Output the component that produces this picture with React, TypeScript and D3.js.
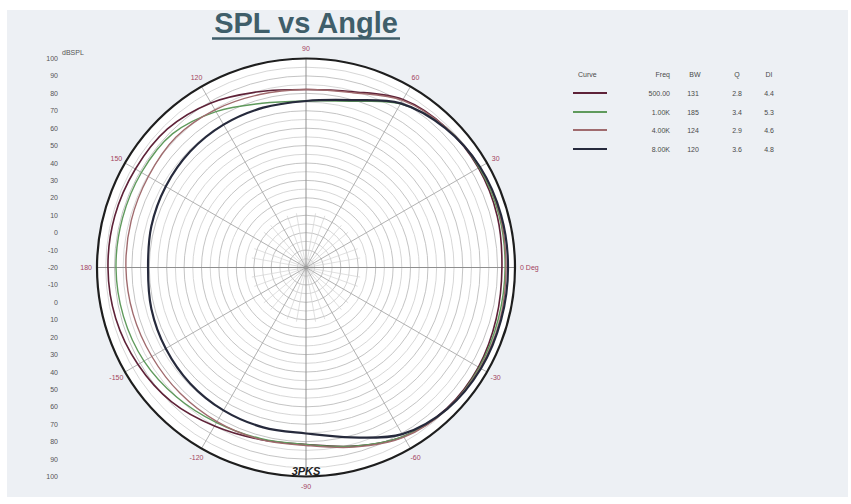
import React from "react";
import * as d3 from "d3";

const angles = [0, 15, 30, 45, 60, 75, 90, 105, 120, 135, 150, 165, 180, 195, 210, 225, 240, 255, 270, 285, 300, 315, 330, 345];
const spl500 = [92.5, 93.7, 94.3, 93.7, 91.4, 84.5, 82.2, 84.5, 89.1, 92.5, 93.1, 93.7, 93.7, 93.1, 91.4, 89.1, 85.1, 82.2, 81.6, 86.2, 92.0, 94.3, 94.3, 93.1];
const spl1k = [94.3, 94.8, 94.8, 93.7, 88.5, 78.8, 75.6, 77.6, 83.4, 88.5, 89.1, 89.1, 89.1, 88.5, 87.4, 85.1, 82.8, 81.6, 81.6, 86.2, 92.0, 94.8, 94.8, 94.3];
const spl4k = [94.8, 95.4, 95.4, 93.7, 90.8, 83.9, 82.2, 82.8, 84.5, 85.7, 84.5, 83.9, 83.4, 82.8, 82.2, 82.2, 82.2, 82.2, 82.2, 86.8, 92.5, 94.8, 95.4, 95.4];
const spl8k = [96.0, 96.0, 95.4, 93.1, 88.8, 79.5, 75.6, 75.0, 74.7, 74.1, 73.0, 71.9, 70.7, 71.9, 73.0, 74.1, 74.7, 75.0, 75.3, 81.0, 90.5, 94.8, 96.0, 96.0];

const freqLabels = ["500.00", "1.00K", "4.00K", "8.00K"];
const bwValues = ["131", "185", "124", "120"];
const qValues = ["2.8", "3.4", "2.9", "3.6"];
const diValues = ["4.4", "5.3", "4.6", "4.8"];
const curveColors = ["#5e2238", "#5f9a5c", "#a06b6e", "#262a3c"];
const curveWidths = [1.6, 1.4, 1.4, 2.2];

const angleTicks = [0, 30, 60, 90, 120, 150, 180, 210, 240, 270, 300, 330];
const angleTickLabels = ["0 Deg", "30", "60", "90", "120", "150", "180", "-150", "-120", "-90", "-60", "-30"];
const dbTop = [100, 90, 80, 70, 60, 50, 40, 30, 20, 10, 0, -10];
const dbCenter = -20;

export default function App() {
  const W = 851, H = 504;
  const cx = 306, cy = 267.5, R = 209;
  const r = d3.scaleLinear().domain([-20, 100]).range([0, R]);
  const series = [spl500, spl1k, spl4k, spl8k];
  const toA = (deg: number) => ((90 - deg) * Math.PI) / 180;
  const line = d3
    .lineRadial<number>()
    .angle((_, i) => toA(angles[i]))
    .radius((d) => r(d))
    .curve(d3.curveCatmullRomClosed.alpha(0.5));

  const rings = d3.range(-15, 100, 5);
  const minorSpokes = d3.range(0, 360, 10).filter((a) => a % 30 !== 0);
  const labelColor = "#a3435e";
  const axisTextColor = "#555555";

  const legendX = 573;
  const rowsY = [93, 112, 130, 149];

  return (
    <svg width={W} height={H} style={{ position: "absolute", left: 0, top: 0, display: "block" }} fontFamily="Liberation Sans, Arial, sans-serif">
      <rect x={0} y={0} width={W} height={H} fill="#ffffff" />
      <rect x={7} y={10} width={W - 10} height={487} fill="#edf0f4" />

      {/* title */}
      <text x={306} y={33} textAnchor="middle" fontSize={29} fontWeight="bold" fill="#3f5e6a">SPL vs Angle</text>
      <line x1={212} x2={400} y1={38.5} y2={38.5} stroke="#3f5e6a" strokeWidth={2.5} />

      {/* dB axis labels */}
      <text x={62} y={55} fontSize={7} fill={axisTextColor}>dBSPL</text>
      {dbTop.map((v) => (
        <text key={"t" + v} x={58} y={cy - r(v) + 2.5} fontSize={7} textAnchor="end" fill={axisTextColor}>{v}</text>
      ))}
      <text x={58} y={cy + 2.5} fontSize={7} textAnchor="end" fill={axisTextColor}>{dbCenter}</text>
      {dbTop.map((v) => (
        <text key={"b" + v} x={58} y={cy + r(v) + 2.5} fontSize={7} textAnchor="end" fill={axisTextColor}>{v}</text>
      ))}

      <g transform={`translate(${cx},${cy})`}>
        <circle r={R} fill="#ffffff" />
        {rings.map((v) => (
          <circle key={v} r={r(v)} fill="none" stroke={v % 10 === 0 ? "#b5b5b5" : "#cdcdcd"} strokeWidth={0.8} />
        ))}
        {minorSpokes.map((a) => (
          <line key={"m" + a} x1={0} y1={0} x2={Math.cos((a * Math.PI) / 180) * 55} y2={-Math.sin((a * Math.PI) / 180) * 55} stroke="#d2d2d2" strokeWidth={0.7} />
        ))}
        {angleTicks.map((a) => (
          <line key={"s" + a} x1={0} y1={0} x2={Math.cos((a * Math.PI) / 180) * R} y2={-Math.sin((a * Math.PI) / 180) * R} stroke={a % 90 === 0 ? "#8f8f8f" : "#a8a8a8"} strokeWidth={a % 90 === 0 ? 1 : 0.9} />
        ))}
        <circle r={2} fill="#999" />
        {series.map((s, i) => (
          <path key={i} d={line(s) || ""} fill="none" stroke={curveColors[i]} strokeWidth={curveWidths[i]} />
        ))}
        <circle r={R} fill="none" stroke="#1e1e1e" strokeWidth={2.2} />
        {angleTicks.map((a, i) => {
          const rad = (a * Math.PI) / 180;
          const lr = a === 0 || a === 180 ? 214 : 219;
          const x = Math.cos(rad) * lr;
          const y = -Math.sin(rad) * lr;
          const anchor = a === 0 ? "start" : a === 180 ? "end" : "middle";
          return (
            <text key={"l" + a} x={x} y={y + 2.5} fontSize={7} textAnchor={anchor} fill={labelColor}>{angleTickLabels[i]}</text>
          );
        })}
        <text x={0} y={R - 2} fontSize={11} fontWeight="bold" fontStyle="italic" textAnchor="middle" fill="#222">3PKS</text>
      </g>

      {/* legend */}
      <g fontSize={7} fill="#4a4a4a">
        <text x={legendX + 5} y={77}>Curve</text>
        <text x={670} y={77} textAnchor="end">Freq</text>
        <text x={695} y={77} textAnchor="middle">BW</text>
        <text x={737} y={77} textAnchor="middle">Q</text>
        <text x={769} y={77} textAnchor="middle">DI</text>
        {rowsY.map((y, i) => (
          <g key={i}>
            <line x1={legendX} x2={legendX + 34} y1={y} y2={y} stroke={curveColors[i]} strokeWidth={2} />
            <text x={670} y={y + 2.5} textAnchor="end">{freqLabels[i]}</text>
            <text x={693} y={y + 2.5} textAnchor="middle">{bwValues[i]}</text>
            <text x={737} y={y + 2.5} textAnchor="middle">{qValues[i]}</text>
            <text x={769} y={y + 2.5} textAnchor="middle">{diValues[i]}</text>
          </g>
        ))}
      </g>
    </svg>
  );
}
